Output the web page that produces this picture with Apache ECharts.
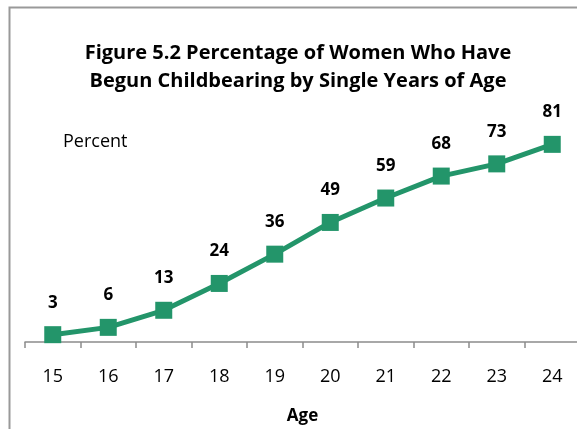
<!DOCTYPE html>
<html><head><meta charset="utf-8">
<script src="https://cdn.jsdelivr.net/npm/echarts@6/dist/echarts.min.js"></script>
<style>html,body{margin:0;padding:0;background:#fff}#c{width:577px;height:429px}</style>
</head><body><div id="c"></div>
<script>
var categories = ['15','16','17','18','19','20','21','22','23','24'];
var values = [3, 6, 13, 24, 36, 49, 59, 68, 73, 81];
var titleText = 'Figure 5.2 Percentage of Women Who Have\nBegun Childbearing by Single Years of Age';
var FONT = '"Open Sans", Lato, sans-serif';
var chart = echarts.init(document.getElementById('c'));
chart.setOption({
  animation: false,
  title: {
    text: titleText, left: 293, top: 34, textAlign: 'center',
    textStyle: {fontFamily: FONT, fontSize: 20, fontWeight: 'bold', color: '#000', lineHeight: 28}
  },
  graphic: [
    {type: 'rect', left: 7, top: 5, shape: {width: 600, height: 460}, style: {fill: 'none', stroke: '#999', lineWidth: 2}},
    {type: 'text', x: 63, y: 142, style: {text: 'Percent', fontFamily: FONT, fontSize: 18, fill: '#000', verticalAlign: 'middle'}}
  ],
  grid: {left: 25, right: -3, top: 98, bottom: 87, outerBoundsMode: 'none', containLabel: false},
  xAxis: {
    type: 'category', data: categories, boundaryGap: true,
    name: 'Age', nameLocation: 'middle', nameGap: 66,
    nameTextStyle: {fontFamily: FONT, fontSize: 17, fontWeight: 'bold', color: '#000'},
    axisLine: {lineStyle: {color: '#8c8c8c', width: 1.5}},
    axisTick: {show: true, length: 6, lineStyle: {color: '#8c8c8c', width: 1.5}},
    axisLabel: {margin: 26, fontFamily: FONT, fontSize: 18, color: '#000'}
  },
  yAxis: {type: 'value', min: 0, max: 100, show: false, splitLine: {show: false}},
  series: [{
    type: 'line', data: values,
    symbol: 'rect', symbolSize: 17,
    lineStyle: {color: '#23956a', width: 5},
    itemStyle: {color: '#23956a'},
    label: {show: true, position: 'top', distance: 15, fontFamily: FONT, fontSize: 17, fontWeight: 'bold', color: '#000'}
  }]
});
</script></body></html>
